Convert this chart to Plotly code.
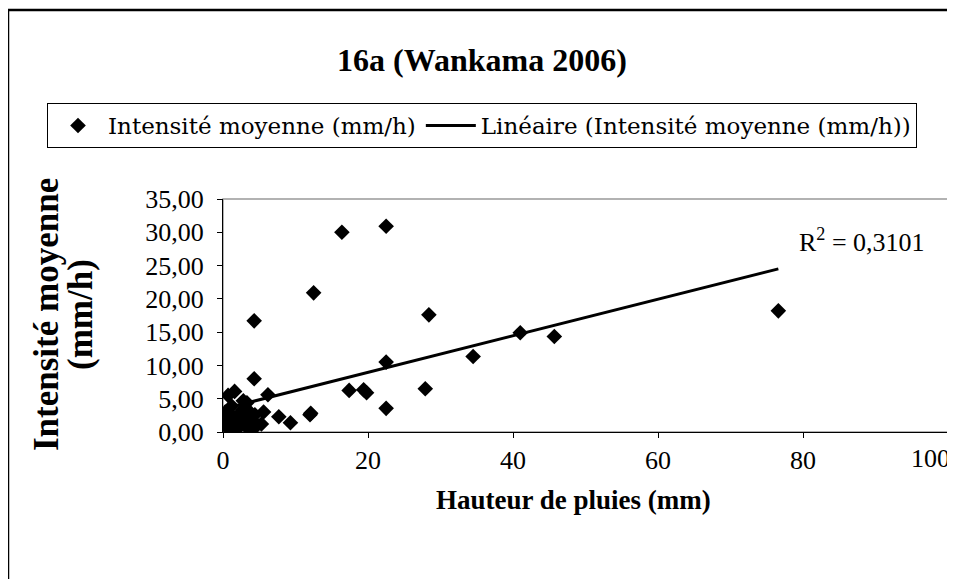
import plotly.graph_objects as go

# ---- data ----
hauteur_mm = [16.4, 22.5, 12.5, 4.3, 28.4, 76.6, 41.0, 45.7, 34.5, 22.5,
              4.3, 17.4, 19.4, 19.8, 27.9, 22.5, 6.2, 12.1, 12.0, 7.7,
              9.3, 5.6, 1.6, 0.7, 2.8,
              0.4, 0.9, 1.5, 2.0, 2.5, 3.0, 3.3, 2.1, 1.2, 4.0, 4.6, 5.3,
              3.4, 0.3, 2.7, 1.0, 3.8, 1.8, 2.4, 3.6, 0.6, 4.4]
intensite_mmh = [30.0, 30.9, 20.9, 16.7, 17.6, 18.2, 14.9, 14.35, 11.35, 10.5,
                 8.0, 6.25, 6.35, 5.9, 6.5, 3.55, 5.6, 2.8, 2.6, 2.3,
                 1.4, 3.0, 6.1, 5.5, 4.7,
                 0.8, 2.8, 0.3, 1.5, 2.5, 1.0, 4.4, 0.6, 3.9, 1.8, 0.9, 1.2,
                 2.1, 3.0, 3.3, 0.5, 0.4, 2.2, 1.9, 3.1, 1.6, 2.6]
trend_slope = 0.2745
trend_intercept = 3.47
r2_label = "R<sup>2</sup> = 0,3101"

x_ticks = [0, 20, 40, 60, 80, 100]
x_tick_labels = ["0", "20", "40", "60", "80", "100"]
y_ticks = [0, 5, 10, 15, 20, 25, 30, 35]
y_tick_labels = ["0,00", "5,00", "10,00", "15,00", "20,00", "25,00", "30,00", "35,00"]

title_text = "<b>16a (Wankama 2006)</b>"
series_name = "Intensité moyenne (mm/h)"
trend_name = "Linéaire (Intensité moyenne (mm/h))"
x_title = "<b>Hauteur de pluies (mm)</b>"
y_title_line1 = "<b>Intensité moyenne</b>"
y_title_line2 = "<b>(mm/h)</b>"

FONT = "Liberation Serif"
WIDE_FONT = "DejaVu Serif"
TICK_SIZE = 26

trend_x = [min(hauteur_mm), max(hauteur_mm)]
trend_y = [trend_intercept + trend_slope * v for v in trend_x]

# the last x label is kept inside the chart (as in the original):
# it is drawn right-aligned on its tick instead of centred
x_tick_text = list(x_tick_labels[:-1]) + [""]

fig = go.Figure()
fig.add_trace(go.Scatter(
    x=hauteur_mm, y=intensite_mmh, mode="markers", name=series_name,
    marker=dict(symbol="diamond", size=12, color="black", line=dict(width=0)),
))
fig.add_trace(go.Scatter(
    x=trend_x, y=trend_y, mode="lines", name=trend_name,
    line=dict(color="black", width=3),
))

# page is offset by the 8px body margin
OFF = 8
W, H = 955 - OFF, 579 - OFF
L, R, T, B = 223, 948, 199, 432          # plot area in page pixels
pw, ph = R - L, B - T

def px(xp):
    return (xp - L) / pw

def py(yp):
    return (B - yp) / ph

fig.update_layout(
    width=W, height=H,
    margin=dict(l=L - OFF, r=(W + OFF) - R, t=T - OFF, b=(H + OFF) - B, pad=0,
                autoexpand=False),
    paper_bgcolor="white", plot_bgcolor="white",
    font=dict(family=FONT, size=20, color="black"),
    showlegend=True,
    legend=dict(
        orientation="h", x=px(47), xanchor="left", y=py(103), yanchor="top",
        bordercolor="black", borderwidth=1, bgcolor="white",
        font=dict(family=WIDE_FONT, size=23, color="black"),
        itemwidth=50, tracegroupgap=0,
    ),
    xaxis=dict(
        range=[0, 100], tickvals=x_ticks, ticktext=x_tick_text,
        ticks="outside", ticklen=5,
        tickcolor="black", showline=True, linecolor="black", linewidth=1,
        showgrid=False, zeroline=False, tickfont=dict(size=TICK_SIZE),
        automargin=False,
    ),
    yaxis=dict(
        range=[0, 35], tickvals=y_ticks, ticktext=y_tick_labels,
        ticks="outside", ticklen=5, tickcolor="black", showline=True,
        linecolor="black", linewidth=1, showgrid=False, zeroline=False,
        tickfont=dict(size=TICK_SIZE), automargin=False, ticklabelstandoff=8,
    ),
)

annotations = [
    dict(text=title_text, xref="paper", yref="paper", x=px(482), y=py(60),
         xanchor="center", yanchor="middle", showarrow=False,
         font=dict(family=FONT, size=32)),
    dict(text=x_title, xref="paper", yref="paper", x=px(573), y=py(500),
         xanchor="center", yanchor="middle", showarrow=False,
         font=dict(family=FONT, size=27)),
    dict(text=y_title_line1, xref="paper", yref="paper", x=px(46), y=py(315),
         xanchor="center", yanchor="middle", showarrow=False, textangle=-90,
         font=dict(family=FONT, size=35)),
    dict(text=y_title_line2, xref="paper", yref="paper", x=px(80), y=py(315),
         xanchor="center", yanchor="middle", showarrow=False, textangle=-90,
         font=dict(family=FONT, size=35)),
    dict(text=r2_label, xref="paper", yref="paper", x=px(862), y=py(240),
         xanchor="center", yanchor="middle", showarrow=False,
         font=dict(family=FONT, size=26)),
    # last x tick label, right-aligned on its tick
    dict(text=x_tick_labels[-1], xref="x", yref="paper", x=x_ticks[-1], y=0,
         xanchor="right", yanchor="top", yshift=-10, xshift=4, showarrow=False,
         font=dict(family=FONT, size=TICK_SIZE)),
]
fig.update_layout(annotations=annotations)

shapes = [
    # plot area border (gray)
    dict(type="rect", xref="x domain", yref="y domain", x0=0, x1=1, y0=0, y1=1,
         line=dict(color="#999999", width=1.5), layer="below"),
    # outer chart frame
    dict(type="rect", xref="paper", yref="paper",
         x0=px(8), x1=px(980), y0=py(620), y1=py(10),
         line=dict(color="black", width=2.5), layer="above"),
]
fig.update_layout(shapes=shapes)

fig.write_html("out.html")
